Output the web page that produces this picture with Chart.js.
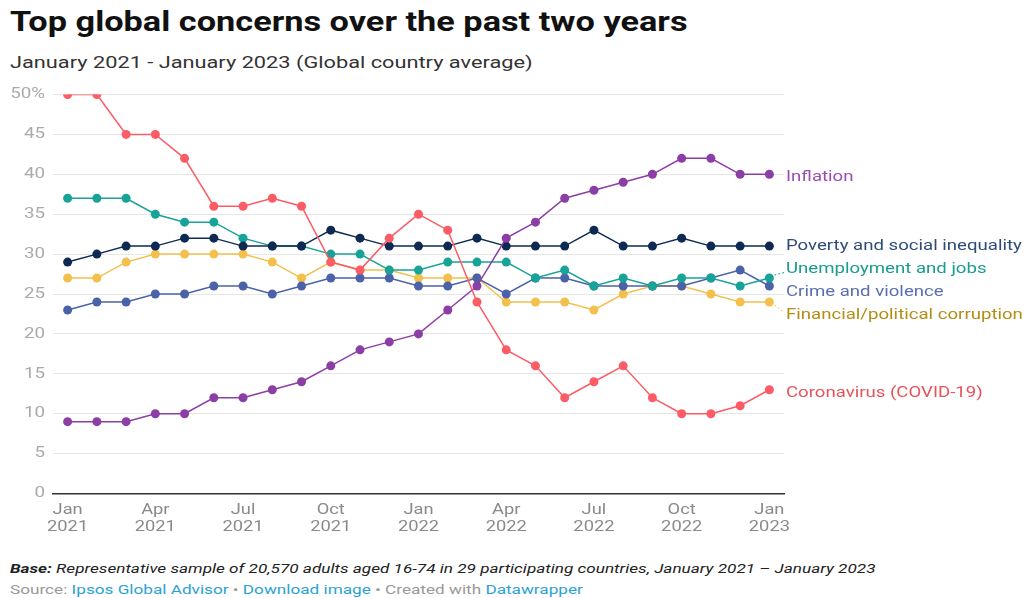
<!DOCTYPE html>
<html>
<head>
<meta charset="utf-8">
<script src="https://cdn.jsdelivr.net/npm/chart.js@4"></script>
<style>
  body { margin: 0; background: #fff; width: 1032px; height: 598px; overflow: hidden; position: relative; font-family: Roboto, "Noto Sans", sans-serif; }
  .txt { position: absolute; left: 10px; white-space: nowrap; transform-origin: left top; }
  #title { top: 8px; font-size: 28px; line-height: 28px; font-weight: bold; color: #111; transform: scaleX(1.225); }
  #subtitle { top: 54px; font-size: 17px; line-height: 17px; color: #333; transform: scaleX(1.28); }
  #wrap { position: absolute; left: 0; top: 70px; width: 1032px; height: 470px; }
  #base { top: 563px; font-size: 12px; line-height: 12px; font-style: italic; color: #222; transform: scaleX(1.43); }
  #source { top: 584px; font-size: 12px; line-height: 12px; color: #999; transform: scaleX(1.43); }
  #source a { color: #2aa2d6; text-decoration: none; }
</style>
</head>
<body>
<div id="title" class="txt">Top global concerns over the past two years</div>
<div id="subtitle" class="txt">January 2021 - January 2023 (Global country average)</div>
<div id="wrap"><canvas id="line-chart"></canvas></div>
<div id="base" class="txt"><b>Base:</b> Representative sample of 20,570 adults aged 16-74 in 29 participating countries, January 2021 – January 2023</div>
<div id="source" class="txt">Source: <a>Ipsos Global Advisor</a> • <a>Download image</a> • Created with <a>Datawrapper</a></div>
<script>
const months = [
  "Jan 2021", "Feb 2021", "Mar 2021", "Apr 2021", "May 2021", "Jun 2021",
  "Jul 2021", "Aug 2021", "Sep 2021", "Oct 2021", "Nov 2021", "Dec 2021",
  "Jan 2022", "Feb 2022", "Mar 2022", "Apr 2022", "May 2022", "Jun 2022",
  "Jul 2022", "Aug 2022", "Sep 2022", "Oct 2022", "Nov 2022", "Dec 2022",
  "Jan 2023",
];
const tickMonths = ["Jan", "Apr", "Jul", "Oct"];
const yTicks = [0, 5, 10, 15, 20, 25, 30, 35, 40, 45, 50];

const inflation = [9, 9, 9, 10, 10, 12, 12, 13, 14, 16, 18, 19, 20, 23, 26, 32, 34, 37, 38, 39, 40, 42, 42, 40, 40];
const poverty = [29, 30, 31, 31, 32, 32, 31, 31, 31, 33, 32, 31, 31, 31, 32, 31, 31, 31, 33, 31, 31, 32, 31, 31, 31];
const unemployment = [37, 37, 37, 35, 34, 34, 32, 31, 31, 30, 30, 28, 28, 29, 29, 29, 27, 28, 26, 27, 26, 27, 27, 26, 27];
const crime = [23, 24, 24, 25, 25, 26, 26, 25, 26, 27, 27, 27, 26, 26, 27, 25, 27, 27, 26, 26, 26, 26, 27, 28, 26];
const corruption = [27, 27, 29, 30, 30, 30, 30, 29, 27, 29, 28, 28, 27, 27, 27, 24, 24, 24, 23, 25, 26, 26, 25, 24, 24];
const covid = [50, 50, 45, 45, 42, 36, 36, 37, 36, 29, 28, 32, 35, 33, 24, 18, 16, 12, 14, 16, 12, 10, 10, 11, 13];

function series(label, data, color, textColor) {
  return {
    label: label,
    data: data,
    borderColor: color,
    backgroundColor: color,
    textColor: textColor,
    borderWidth: 1.5,
    pointRadius: 4.5,
    pointBorderWidth: 0,
    tension: 0,
  };
}

// text in the reference is drawn a bit wide
function wideText(ctx, text, x, y, align, sx) {
  ctx.save();
  ctx.translate(x, y);
  ctx.scale(sx, 1);
  ctx.textAlign = align;
  ctx.fillText(text, 0, 0);
  ctx.restore();
}

const axisLabels = {
  id: "axisLabels",
  afterDraw(chart) {
    const ctx = chart.ctx;
    const xs = chart.scales.x, ys = chart.scales.y;
    ctx.save();
    ctx.font = "15px Roboto";
    ctx.textBaseline = "middle";
    ctx.fillStyle = "#aaa";
    yTicks.forEach((v) => {
      wideText(ctx, v === 50 ? "50%" : String(v), 45, ys.getPixelForValue(v), "right", 1.25);
    });
    ctx.fillStyle = "#8a8a8a";
    months.forEach((m, i) => {
      const parts = m.split(" ");
      if (!tickMonths.includes(parts[0])) return;
      const x = xs.getPixelForValue(i);
      wideText(ctx, parts[0], x, chart.chartArea.bottom + 16.5, "center", 1.22);
      wideText(ctx, parts[1], x, chart.chartArea.bottom + 34, "center", 1.22);
    });
    ctx.restore();
  },
};

// end-of-line labels, spread apart when they crowd
const endLabels = {
  id: "endLabels",
  afterDatasetsDraw(chart) {
    const ctx = chart.ctx;
    const area = chart.chartArea;
    const gap = 23;
    let items = chart.data.datasets.map((ds, i) => {
      const pt = chart.getDatasetMeta(i).data[ds.data.length - 1];
      return { ds: ds, px: pt.x, py: pt.y, y: pt.y };
    });
    items.sort((a, b) => a.py - b.py);
    let groups = items.map((it) => ({ members: [it], center: it.py }));
    let merged = true;
    while (merged) {
      merged = false;
      for (let i = 0; i < groups.length - 1; i++) {
        const a = groups[i], b = groups[i + 1];
        const aBottom = a.center + (a.members.length - 1) * gap / 2;
        const bTop = b.center - (b.members.length - 1) * gap / 2;
        if (bTop - aBottom < gap) {
          const members = a.members.concat(b.members);
          const center = members.reduce((s, m) => s + m.py, 0) / members.length;
          groups.splice(i, 2, { members: members, center: center });
          merged = true;
          break;
        }
      }
    }
    groups.forEach((g) => {
      g.members.forEach((m, k) => {
        m.y = g.center + (k - (g.members.length - 1) / 2) * gap + 3;
      });
    });
    const lx = area.right + 1;
    ctx.save();
    ctx.font = "15px Roboto";
    ctx.textBaseline = "middle";
    items.forEach((m) => {
      if (Math.abs(m.y - m.py) > 7) {
        ctx.strokeStyle = m.ds.borderColor;
        ctx.lineWidth = 1;
        ctx.setLineDash([2, 2]);
        ctx.beginPath();
        ctx.moveTo(m.px + 5, m.py + (m.y > m.py ? 3 : -3));
        ctx.lineTo(lx - 1, m.y + (m.y > m.py ? -3 : 3));
        ctx.stroke();
        ctx.setLineDash([]);
      }
      ctx.fillStyle = m.ds.textColor;
      wideText(ctx, m.ds.label, lx + 1, m.y, "left", 1.24);
    });
    ctx.restore();
  },
};

const LCHART = document.getElementById("line-chart");

let lineChart = new Chart(LCHART, {
  type: "line",
  data: {
    labels: months,
    datasets: [
      series("Coronavirus (COVID-19)", covid, "#fc5c65", "#e8525b"),
      series("Inflation", inflation, "#8b3ea5", "#9a4db2"),
      series("Poverty and social inequality", poverty, "#0e2a52", "#2f4c78"),
      series("Unemployment and jobs", unemployment, "#17a398", "#1a9c90"),
      series("Crime and violence", crime, "#4c62a8", "#5b6eb3"),
      series("Financial/political corruption", corruption, "#f3c04e", "#b48d14"),
    ],
  },
  options: {
    responsive: true,
    maintainAspectRatio: false,
    animation: false,
    layout: { padding: { top: 24.5, right: 248, left: 0, bottom: 46.5 } },
    plugins: {
      legend: { display: false },
      tooltip: { enabled: false },
    },
    scales: {
      x: {
        offset: true,
        grid: { display: false, drawTicks: false },
        border: { color: "#333", width: 1.5 },
        ticks: { display: false },
      },
      y: {
        min: 0,
        max: 50,
        afterBuildTicks: (scale) => {
          scale.ticks = yTicks.map((v) => ({ value: v }));
        },
        afterFit: (scale) => {
          scale.width = 53;
        },
        grid: { color: "#e6e6e6", drawTicks: false },
        border: { display: false },
        ticks: { display: false },
      },
    },
  },
  plugins: [axisLabels, endLabels],
});
</script>
</body>
</html>
